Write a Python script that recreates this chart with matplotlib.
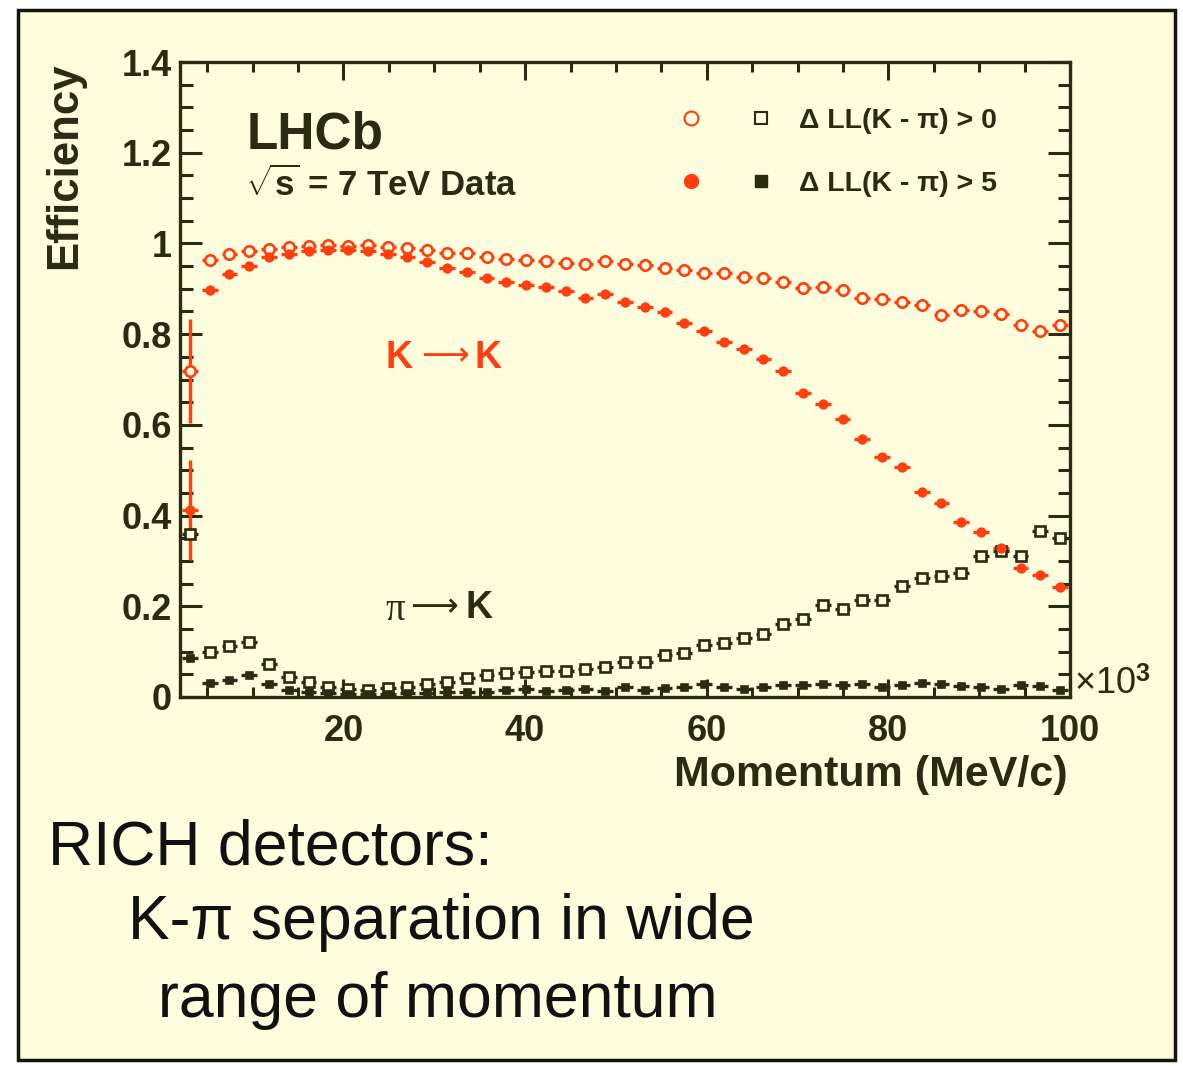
import numpy as np
import matplotlib
matplotlib.use("Agg")
import matplotlib.pyplot as plt
from matplotlib.legend_handler import HandlerTuple
from matplotlib.lines import Line2D
from matplotlib.patches import Rectangle
from matplotlib.ticker import MultipleLocator, FuncFormatter

# momentum binning (x10^3 MeV/c): 45 bins between 2 and 100
p_edges = np.linspace(2, 100, 46)

# K -> K efficiency, DLL(K-pi) > 0 and > 5
k_loose = [0.718, 0.963, 0.976, 0.983, 0.988, 0.992, 0.994, 0.996, 0.994, 0.996,
           0.992, 0.990, 0.985, 0.979, 0.979, 0.970, 0.966, 0.964, 0.961, 0.957,
           0.955, 0.961, 0.955, 0.952, 0.946, 0.942, 0.934, 0.934, 0.926, 0.924,
           0.916, 0.901, 0.905, 0.898, 0.879, 0.878, 0.870, 0.865, 0.842, 0.854,
           0.852, 0.845, 0.821, 0.806, 0.820]
k_tight = [0.412, 0.898, 0.933, 0.951, 0.971, 0.977, 0.983, 0.985, 0.985, 0.983,
           0.976, 0.970, 0.959, 0.946, 0.937, 0.924, 0.914, 0.909, 0.905, 0.896,
           0.880, 0.889, 0.870, 0.859, 0.848, 0.824, 0.808, 0.782, 0.767, 0.745,
           0.718, 0.671, 0.647, 0.613, 0.568, 0.529, 0.506, 0.453, 0.427, 0.385,
           0.364, 0.329, 0.285, 0.268, 0.242]
# pi -> K misid rate, DLL(K-pi) > 0 and > 5
pi_loose = [0.359, 0.099, 0.112, 0.121, 0.072, 0.045, 0.034, 0.023, 0.018, 0.016,
            0.019, 0.021, 0.028, 0.034, 0.042, 0.048, 0.053, 0.055, 0.058, 0.058,
            0.062, 0.067, 0.077, 0.078, 0.093, 0.097, 0.115, 0.119, 0.131, 0.139,
            0.161, 0.173, 0.202, 0.195, 0.213, 0.214, 0.244, 0.263, 0.266, 0.274,
            0.310, 0.322, 0.310, 0.367, 0.351]
pi_tight = [0.086, 0.031, 0.038, 0.048, 0.028, 0.016, 0.011, 0.008, 0.007, 0.006,
            0.007, 0.008, 0.008, 0.011, 0.011, 0.012, 0.015, 0.017, 0.014, 0.016,
            0.018, 0.014, 0.023, 0.016, 0.019, 0.023, 0.028, 0.021, 0.018, 0.021,
            0.026, 0.026, 0.028, 0.026, 0.028, 0.023, 0.026, 0.030, 0.028, 0.025,
            0.023, 0.018, 0.026, 0.025, 0.016]
# large stat. errors in the lowest bin
k_loose_err0 = 0.115
k_tight_err0 = 0.11

legend_labels = ["\u0394 LL(K - \u03c0) > 0", "\u0394 LL(K - \u03c0) > 5"]

BG = "#fefddd"
FG = "#2b2a12"
RED = "#ff3f0f"
W, H = 1183, 1066

plt.rcParams.update({
    "font.family": ["Liberation Sans", "DejaVu Sans"],
    "font.weight": "bold",
    "mathtext.fontset": "custom",
    "mathtext.rm": "Liberation Sans",
    "mathtext.bf": "Liberation Sans:bold",
    "mathtext.it": "Liberation Serif:italic",
})

fig = plt.figure(figsize=(W / 100, H / 100), dpi=100, facecolor="white")
fig.add_artist(Rectangle((18 / W, 1 - 1060 / H), (1175 - 18) / W, (1060 - 10) / H,
                         transform=fig.transFigure, facecolor=BG, edgecolor="#151510",
                         lw=2.5, zorder=0))

ax = fig.add_axes([180 / W, 1 - 697 / H, 890 / W, 635 / H])
ax.set_facecolor("none")

p_mid = 0.5 * (p_edges[:-1] + p_edges[1:])
half = 0.5 * np.diff(p_edges) * 0.8


def draw(vals, marker, color, filled, ms):
    ax.errorbar(p_mid, vals, xerr=half, fmt=marker, ms=ms,
                mfc=color if filled else BG, mec=color, mew=1.9,
                ecolor=color, elinewidth=2.4, capsize=0)


draw(pi_loose, "s", FG, False, 6.8)
draw(pi_tight, "s", FG, True, 5)
draw(k_loose, "o", RED, False, 7.5)
draw(k_tight, "o", RED, True, 5.5)
# first bin vertical errors
ax.errorbar(p_mid[:1], k_loose[:1], yerr=k_loose_err0, fmt="none", ecolor=RED, elinewidth=2.4)
ax.errorbar(p_mid[:1], k_tight[:1], yerr=k_tight_err0, fmt="none", ecolor=RED, elinewidth=2.4)

ax.set_xlim(p_edges[0], p_edges[-1])
ax.set_ylim(0, 1.4)
ax.xaxis.set_major_locator(MultipleLocator(20))
ax.xaxis.set_minor_locator(MultipleLocator(5))
ax.yaxis.set_major_locator(MultipleLocator(0.2))
ax.yaxis.set_minor_locator(MultipleLocator(0.05))
ax.yaxis.set_major_formatter(FuncFormatter(lambda v, _: "%g" % round(v, 2)))
ax.tick_params(which="both", direction="in", top=True, right=True,
               color=FG, labelcolor=FG, width=2.2, labelsize=26)
ax.tick_params(axis="x", which="major", length=13, pad=12)
ax.tick_params(axis="x", which="minor", length=7)
ax.tick_params(axis="y", which="major", length=16, pad=6)
ax.tick_params(axis="y", which="minor", length=9)
for s in ax.spines.values():
    s.set_color(FG)
    s.set_linewidth(2.4)

fig.text(65 / W, 1 - 62 / H, "Efficiency", rotation=90, ha="center", va="top",
         size=31.5, color=FG)
fig.text(1068 / W, 1 - 775 / H, "Momentum (MeV/c)", ha="right", va="center",
         size=31, color=FG)
fig.text(1074 / W, 1 - 685 / H, "\u00d710$^{3}$", ha="left", va="center",
         size=26, weight="normal", color=FG)

fig.text(247 / W, 1 - 135 / H, "LHCb", ha="left", va="center", size=37, color=FG)
fig.text(245 / W, 1 - 185 / H, r"$\sqrt{\mathbf{s}}$ = 7 TeV Data", ha="left",
         va="center", size=25, color=FG)

arrow_fonts = ["DejaVu Sans"]
fig.text(385 / W, 1 - 358 / H, "K", ha="left", va="center", size=27, color=RED)
fig.text(421 / W, 1 - 356 / H, "\u27f6", ha="left", va="center", size=24, weight="normal",
         family=arrow_fonts, color=RED)
fig.text(474 / W, 1 - 358 / H, "K", ha="left", va="center", size=27, color=RED)
fig.text(385 / W, 1 - 610 / H, "\u03c0", ha="left", va="center", size=28,
         weight="normal", family=["Liberation Serif", "DejaVu Serif"], color=FG)
fig.text(410 / W, 1 - 607 / H, "\u27f6", ha="left", va="center", size=24, weight="normal",
         family=arrow_fonts, color=FG)
fig.text(465 / W, 1 - 608 / H, "K", ha="left", va="center", size=27, color=FG)

h_open = (Line2D([], [], ls="none", marker="o", ms=10, mfc="none", mec=RED, mew=1.5),
          Line2D([], [], ls="none", marker="s", ms=9, mfc="none", mec=FG, mew=1.5))
h_fill = (Line2D([], [], ls="none", marker="o", ms=10, mfc=RED, mec=RED),
          Line2D([], [], ls="none", marker="s", ms=8, mfc=FG, mec=FG))
ax.legend([h_open, h_fill], legend_labels, handler_map={tuple: HandlerTuple(ndivide=None, pad=0)},
          loc="upper left", bbox_to_anchor=(0.519, 0.95), frameon=False, fontsize=20.5,
          handlelength=4.9, handletextpad=0.1, labelspacing=1.3, borderpad=0,
          labelcolor=FG)

fig.text(48 / W, 1 - 848 / H, "RICH detectors:", ha="left", va="center", size=45,
         weight="normal", color="#111111")
fig.text(128 / W, 1 - 922 / H, "K-\u03c0 separation in wide", ha="left", va="center",
         size=45, weight="normal", color="#111111")
fig.text(158 / W, 1 - 1000 / H, "range of momentum", ha="left", va="center", size=45,
         weight="normal", color="#111111")

fig.savefig("out.png", dpi=100, facecolor="white")
